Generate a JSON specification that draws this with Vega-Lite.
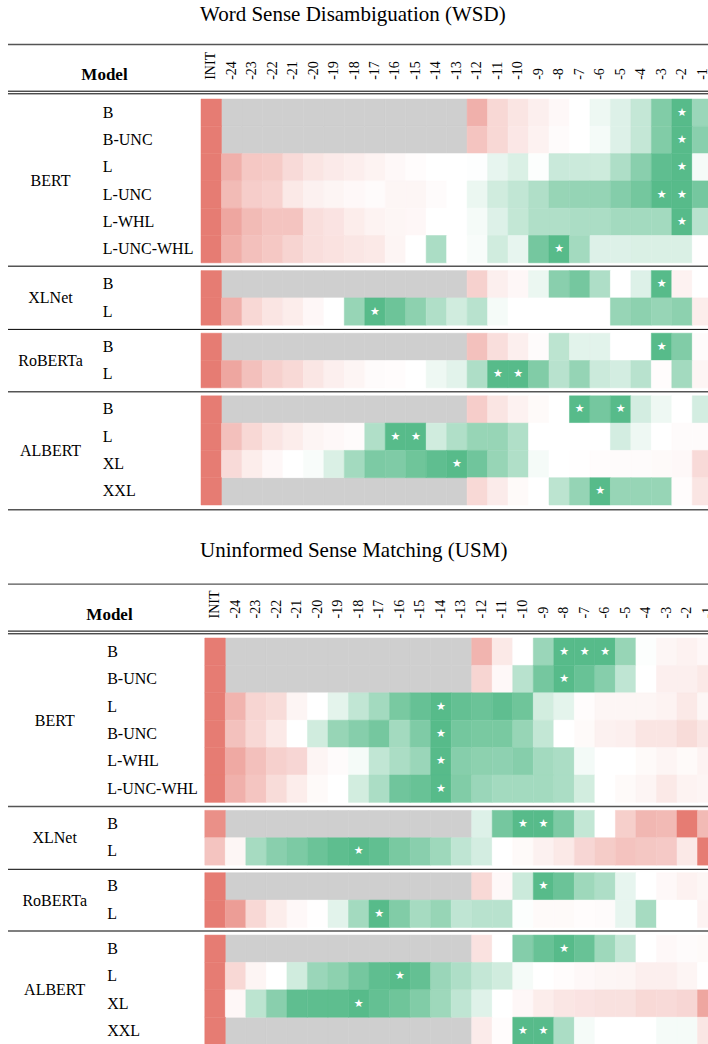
{
"$schema":"https://vega.github.io/schema/vega-lite/v6.json",
"background":"white",
"padding":{"left":7.5,"top":3,"right":0,"bottom":0},
"config":{"view":{"stroke":null},"axis":{"grid":false}},
"datasets":{
"wsd":[
{"g":"BERT","r":"B","c":"INIT","v":-1},{"g":"BERT","r":"B","c":"-24","v":null},{"g":"BERT","r":"B","c":"-23","v":null},{"g":"BERT","r":"B","c":"-22","v":null},{"g":"BERT","r":"B","c":"-21","v":null},{"g":"BERT","r":"B","c":"-20","v":null},{"g":"BERT","r":"B","c":"-19","v":null},{"g":"BERT","r":"B","c":"-18","v":null},{"g":"BERT","r":"B","c":"-17","v":null},{"g":"BERT","r":"B","c":"-16","v":null},{"g":"BERT","r":"B","c":"-15","v":null},{"g":"BERT","r":"B","c":"-14","v":null},{"g":"BERT","r":"B","c":"-13","v":null},{"g":"BERT","r":"B","c":"-12","v":-0.6},{"g":"BERT","r":"B","c":"-11","v":-0.3},{"g":"BERT","r":"B","c":"-10","v":-0.2},{"g":"BERT","r":"B","c":"-9","v":-0.12},{"g":"BERT","r":"B","c":"-8","v":-0.05},{"g":"BERT","r":"B","c":"-7","v":0},{"g":"BERT","r":"B","c":"-6","v":0.1},{"g":"BERT","r":"B","c":"-5","v":0.2},{"g":"BERT","r":"B","c":"-4","v":0.35},{"g":"BERT","r":"B","c":"-3","v":0.75},{"g":"BERT","r":"B","c":"-2","v":1,"s":1},{"g":"BERT","r":"B","c":"-1","v":0.6},
{"g":"BERT","r":"B-UNC","c":"INIT","v":-1},{"g":"BERT","r":"B-UNC","c":"-24","v":null},{"g":"BERT","r":"B-UNC","c":"-23","v":null},{"g":"BERT","r":"B-UNC","c":"-22","v":null},{"g":"BERT","r":"B-UNC","c":"-21","v":null},{"g":"BERT","r":"B-UNC","c":"-20","v":null},{"g":"BERT","r":"B-UNC","c":"-19","v":null},{"g":"BERT","r":"B-UNC","c":"-18","v":null},{"g":"BERT","r":"B-UNC","c":"-17","v":null},{"g":"BERT","r":"B-UNC","c":"-16","v":null},{"g":"BERT","r":"B-UNC","c":"-15","v":null},{"g":"BERT","r":"B-UNC","c":"-14","v":null},{"g":"BERT","r":"B-UNC","c":"-13","v":null},{"g":"BERT","r":"B-UNC","c":"-12","v":-0.45},{"g":"BERT","r":"B-UNC","c":"-11","v":-0.3},{"g":"BERT","r":"B-UNC","c":"-10","v":-0.18},{"g":"BERT","r":"B-UNC","c":"-9","v":-0.1},{"g":"BERT","r":"B-UNC","c":"-8","v":-0.03},{"g":"BERT","r":"B-UNC","c":"-7","v":0},{"g":"BERT","r":"B-UNC","c":"-6","v":0.06},{"g":"BERT","r":"B-UNC","c":"-5","v":0.2},{"g":"BERT","r":"B-UNC","c":"-4","v":0.35},{"g":"BERT","r":"B-UNC","c":"-3","v":0.75},{"g":"BERT","r":"B-UNC","c":"-2","v":1,"s":1},{"g":"BERT","r":"B-UNC","c":"-1","v":0.7},
{"g":"BERT","r":"L","c":"INIT","v":-1},{"g":"BERT","r":"L","c":"-24","v":-0.6},{"g":"BERT","r":"L","c":"-23","v":-0.42},{"g":"BERT","r":"L","c":"-22","v":-0.4},{"g":"BERT","r":"L","c":"-21","v":-0.28},{"g":"BERT","r":"L","c":"-20","v":-0.2},{"g":"BERT","r":"L","c":"-19","v":-0.16},{"g":"BERT","r":"L","c":"-18","v":-0.13},{"g":"BERT","r":"L","c":"-17","v":-0.09},{"g":"BERT","r":"L","c":"-16","v":-0.05},{"g":"BERT","r":"L","c":"-15","v":-0.02},{"g":"BERT","r":"L","c":"-14","v":0},{"g":"BERT","r":"L","c":"-13","v":0},{"g":"BERT","r":"L","c":"-12","v":0.01},{"g":"BERT","r":"L","c":"-11","v":0.14},{"g":"BERT","r":"L","c":"-10","v":0.22},{"g":"BERT","r":"L","c":"-9","v":0.02},{"g":"BERT","r":"L","c":"-8","v":0.32},{"g":"BERT","r":"L","c":"-7","v":0.31},{"g":"BERT","r":"L","c":"-6","v":0.3},{"g":"BERT","r":"L","c":"-5","v":0.48},{"g":"BERT","r":"L","c":"-4","v":0.7},{"g":"BERT","r":"L","c":"-3","v":0.95},{"g":"BERT","r":"L","c":"-2","v":1,"s":1},{"g":"BERT","r":"L","c":"-1","v":0.06},
{"g":"BERT","r":"L-UNC","c":"INIT","v":-1},{"g":"BERT","r":"L-UNC","c":"-24","v":-0.52},{"g":"BERT","r":"L-UNC","c":"-23","v":-0.38},{"g":"BERT","r":"L-UNC","c":"-22","v":-0.34},{"g":"BERT","r":"L-UNC","c":"-21","v":-0.17},{"g":"BERT","r":"L-UNC","c":"-20","v":-0.11},{"g":"BERT","r":"L-UNC","c":"-19","v":-0.08},{"g":"BERT","r":"L-UNC","c":"-18","v":-0.05},{"g":"BERT","r":"L-UNC","c":"-17","v":-0.03},{"g":"BERT","r":"L-UNC","c":"-16","v":-0.07},{"g":"BERT","r":"L-UNC","c":"-15","v":-0.07},{"g":"BERT","r":"L-UNC","c":"-14","v":-0.03},{"g":"BERT","r":"L-UNC","c":"-13","v":0},{"g":"BERT","r":"L-UNC","c":"-12","v":0.12},{"g":"BERT","r":"L-UNC","c":"-11","v":0.28},{"g":"BERT","r":"L-UNC","c":"-10","v":0.37},{"g":"BERT","r":"L-UNC","c":"-9","v":0.47},{"g":"BERT","r":"L-UNC","c":"-8","v":0.62},{"g":"BERT","r":"L-UNC","c":"-7","v":0.63},{"g":"BERT","r":"L-UNC","c":"-6","v":0.63},{"g":"BERT","r":"L-UNC","c":"-5","v":0.73},{"g":"BERT","r":"L-UNC","c":"-4","v":0.83},{"g":"BERT","r":"L-UNC","c":"-3","v":1,"s":1},{"g":"BERT","r":"L-UNC","c":"-2","v":1,"s":1},{"g":"BERT","r":"L-UNC","c":"-1","v":0.82},
{"g":"BERT","r":"L-WHL","c":"INIT","v":-1},{"g":"BERT","r":"L-WHL","c":"-24","v":-0.68},{"g":"BERT","r":"L-WHL","c":"-23","v":-0.52},{"g":"BERT","r":"L-WHL","c":"-22","v":-0.45},{"g":"BERT","r":"L-WHL","c":"-21","v":-0.45},{"g":"BERT","r":"L-WHL","c":"-20","v":-0.25},{"g":"BERT","r":"L-WHL","c":"-19","v":-0.21},{"g":"BERT","r":"L-WHL","c":"-18","v":-0.14},{"g":"BERT","r":"L-WHL","c":"-17","v":-0.09},{"g":"BERT","r":"L-WHL","c":"-16","v":-0.07},{"g":"BERT","r":"L-WHL","c":"-15","v":-0.06},{"g":"BERT","r":"L-WHL","c":"-14","v":0},{"g":"BERT","r":"L-WHL","c":"-13","v":0},{"g":"BERT","r":"L-WHL","c":"-12","v":0.06},{"g":"BERT","r":"L-WHL","c":"-11","v":0.2},{"g":"BERT","r":"L-WHL","c":"-10","v":0.36},{"g":"BERT","r":"L-WHL","c":"-9","v":0.47},{"g":"BERT","r":"L-WHL","c":"-8","v":0.47},{"g":"BERT","r":"L-WHL","c":"-7","v":0.5},{"g":"BERT","r":"L-WHL","c":"-6","v":0.5},{"g":"BERT","r":"L-WHL","c":"-5","v":0.55},{"g":"BERT","r":"L-WHL","c":"-4","v":0.55},{"g":"BERT","r":"L-WHL","c":"-3","v":0.55},{"g":"BERT","r":"L-WHL","c":"-2","v":1,"s":1},{"g":"BERT","r":"L-WHL","c":"-1","v":0.42},
{"g":"BERT","r":"L-UNC-WHL","c":"INIT","v":-1},{"g":"BERT","r":"L-UNC-WHL","c":"-24","v":-0.62},{"g":"BERT","r":"L-UNC-WHL","c":"-23","v":-0.48},{"g":"BERT","r":"L-UNC-WHL","c":"-22","v":-0.42},{"g":"BERT","r":"L-UNC-WHL","c":"-21","v":-0.33},{"g":"BERT","r":"L-UNC-WHL","c":"-20","v":-0.25},{"g":"BERT","r":"L-UNC-WHL","c":"-19","v":-0.22},{"g":"BERT","r":"L-UNC-WHL","c":"-18","v":-0.19},{"g":"BERT","r":"L-UNC-WHL","c":"-17","v":-0.17},{"g":"BERT","r":"L-UNC-WHL","c":"-16","v":-0.08},{"g":"BERT","r":"L-UNC-WHL","c":"-15","v":0},{"g":"BERT","r":"L-UNC-WHL","c":"-14","v":0.5},{"g":"BERT","r":"L-UNC-WHL","c":"-13","v":0},{"g":"BERT","r":"L-UNC-WHL","c":"-12","v":0.04},{"g":"BERT","r":"L-UNC-WHL","c":"-11","v":0.28},{"g":"BERT","r":"L-UNC-WHL","c":"-10","v":0.14},{"g":"BERT","r":"L-UNC-WHL","c":"-9","v":0.82},{"g":"BERT","r":"L-UNC-WHL","c":"-8","v":1,"s":1},{"g":"BERT","r":"L-UNC-WHL","c":"-7","v":0.55},{"g":"BERT","r":"L-UNC-WHL","c":"-6","v":0.2},{"g":"BERT","r":"L-UNC-WHL","c":"-5","v":0.2},{"g":"BERT","r":"L-UNC-WHL","c":"-4","v":0.22},{"g":"BERT","r":"L-UNC-WHL","c":"-3","v":0.22},{"g":"BERT","r":"L-UNC-WHL","c":"-2","v":0.22},{"g":"BERT","r":"L-UNC-WHL","c":"-1","v":-0.01},
{"g":"XLNet","r":"B","c":"INIT","v":-1},{"g":"XLNet","r":"B","c":"-24","v":null},{"g":"XLNet","r":"B","c":"-23","v":null},{"g":"XLNet","r":"B","c":"-22","v":null},{"g":"XLNet","r":"B","c":"-21","v":null},{"g":"XLNet","r":"B","c":"-20","v":null},{"g":"XLNet","r":"B","c":"-19","v":null},{"g":"XLNet","r":"B","c":"-18","v":null},{"g":"XLNet","r":"B","c":"-17","v":null},{"g":"XLNet","r":"B","c":"-16","v":null},{"g":"XLNet","r":"B","c":"-15","v":null},{"g":"XLNet","r":"B","c":"-14","v":null},{"g":"XLNet","r":"B","c":"-13","v":null},{"g":"XLNet","r":"B","c":"-12","v":-0.35},{"g":"XLNet","r":"B","c":"-11","v":-0.12},{"g":"XLNet","r":"B","c":"-10","v":-0.06},{"g":"XLNet","r":"B","c":"-9","v":0.12},{"g":"XLNet","r":"B","c":"-8","v":0.7},{"g":"XLNet","r":"B","c":"-7","v":0.82},{"g":"XLNet","r":"B","c":"-6","v":0.48},{"g":"XLNet","r":"B","c":"-5","v":0},{"g":"XLNet","r":"B","c":"-4","v":0.2},{"g":"XLNet","r":"B","c":"-3","v":1,"s":1},{"g":"XLNet","r":"B","c":"-2","v":-0.1},{"g":"XLNet","r":"B","c":"-1","v":0},
{"g":"XLNet","r":"L","c":"INIT","v":-1},{"g":"XLNet","r":"L","c":"-24","v":-0.6},{"g":"XLNet","r":"L","c":"-23","v":-0.3},{"g":"XLNet","r":"L","c":"-22","v":-0.2},{"g":"XLNet","r":"L","c":"-21","v":-0.14},{"g":"XLNet","r":"L","c":"-20","v":-0.06},{"g":"XLNet","r":"L","c":"-19","v":0},{"g":"XLNet","r":"L","c":"-18","v":0.62},{"g":"XLNet","r":"L","c":"-17","v":1,"s":1},{"g":"XLNet","r":"L","c":"-16","v":0.87},{"g":"XLNet","r":"L","c":"-15","v":0.68},{"g":"XLNet","r":"L","c":"-14","v":0.47},{"g":"XLNet","r":"L","c":"-13","v":0.28},{"g":"XLNet","r":"L","c":"-12","v":0.42},{"g":"XLNet","r":"L","c":"-11","v":0.06},{"g":"XLNet","r":"L","c":"-10","v":0},{"g":"XLNet","r":"L","c":"-9","v":0},{"g":"XLNet","r":"L","c":"-8","v":0},{"g":"XLNet","r":"L","c":"-7","v":0},{"g":"XLNet","r":"L","c":"-6","v":0},{"g":"XLNet","r":"L","c":"-5","v":0.62},{"g":"XLNet","r":"L","c":"-4","v":0.68},{"g":"XLNet","r":"L","c":"-3","v":0.62},{"g":"XLNet","r":"L","c":"-2","v":0.68},{"g":"XLNet","r":"L","c":"-1","v":-0.14},
{"g":"RoBERTa","r":"B","c":"INIT","v":-1},{"g":"RoBERTa","r":"B","c":"-24","v":null},{"g":"RoBERTa","r":"B","c":"-23","v":null},{"g":"RoBERTa","r":"B","c":"-22","v":null},{"g":"RoBERTa","r":"B","c":"-21","v":null},{"g":"RoBERTa","r":"B","c":"-20","v":null},{"g":"RoBERTa","r":"B","c":"-19","v":null},{"g":"RoBERTa","r":"B","c":"-18","v":null},{"g":"RoBERTa","r":"B","c":"-17","v":null},{"g":"RoBERTa","r":"B","c":"-16","v":null},{"g":"RoBERTa","r":"B","c":"-15","v":null},{"g":"RoBERTa","r":"B","c":"-14","v":null},{"g":"RoBERTa","r":"B","c":"-13","v":null},{"g":"RoBERTa","r":"B","c":"-12","v":-0.47},{"g":"RoBERTa","r":"B","c":"-11","v":-0.25},{"g":"RoBERTa","r":"B","c":"-10","v":-0.12},{"g":"RoBERTa","r":"B","c":"-9","v":-0.03},{"g":"RoBERTa","r":"B","c":"-8","v":0.4},{"g":"RoBERTa","r":"B","c":"-7","v":0.17},{"g":"RoBERTa","r":"B","c":"-6","v":0.17},{"g":"RoBERTa","r":"B","c":"-5","v":0},{"g":"RoBERTa","r":"B","c":"-4","v":0},{"g":"RoBERTa","r":"B","c":"-3","v":1,"s":1},{"g":"RoBERTa","r":"B","c":"-2","v":0.75},{"g":"RoBERTa","r":"B","c":"-1","v":-0.03},
{"g":"RoBERTa","r":"L","c":"INIT","v":-1},{"g":"RoBERTa","r":"L","c":"-24","v":-0.68},{"g":"RoBERTa","r":"L","c":"-23","v":-0.48},{"g":"RoBERTa","r":"L","c":"-22","v":-0.36},{"g":"RoBERTa","r":"L","c":"-21","v":-0.29},{"g":"RoBERTa","r":"L","c":"-20","v":-0.19},{"g":"RoBERTa","r":"L","c":"-19","v":-0.12},{"g":"RoBERTa","r":"L","c":"-18","v":-0.08},{"g":"RoBERTa","r":"L","c":"-17","v":-0.03},{"g":"RoBERTa","r":"L","c":"-16","v":-0.02},{"g":"RoBERTa","r":"L","c":"-15","v":0},{"g":"RoBERTa","r":"L","c":"-14","v":0.1},{"g":"RoBERTa","r":"L","c":"-13","v":0.17},{"g":"RoBERTa","r":"L","c":"-12","v":0.48},{"g":"RoBERTa","r":"L","c":"-11","v":1,"s":1},{"g":"RoBERTa","r":"L","c":"-10","v":1,"s":1},{"g":"RoBERTa","r":"L","c":"-9","v":0.75},{"g":"RoBERTa","r":"L","c":"-8","v":0.42},{"g":"RoBERTa","r":"L","c":"-7","v":0.63},{"g":"RoBERTa","r":"L","c":"-6","v":0.31},{"g":"RoBERTa","r":"L","c":"-5","v":0.26},{"g":"RoBERTa","r":"L","c":"-4","v":0.42},{"g":"RoBERTa","r":"L","c":"-3","v":-0.02},{"g":"RoBERTa","r":"L","c":"-2","v":0.55},{"g":"RoBERTa","r":"L","c":"-1","v":-0.08},
{"g":"ALBERT","r":"B","c":"INIT","v":-1},{"g":"ALBERT","r":"B","c":"-24","v":null},{"g":"ALBERT","r":"B","c":"-23","v":null},{"g":"ALBERT","r":"B","c":"-22","v":null},{"g":"ALBERT","r":"B","c":"-21","v":null},{"g":"ALBERT","r":"B","c":"-20","v":null},{"g":"ALBERT","r":"B","c":"-19","v":null},{"g":"ALBERT","r":"B","c":"-18","v":null},{"g":"ALBERT","r":"B","c":"-17","v":null},{"g":"ALBERT","r":"B","c":"-16","v":null},{"g":"ALBERT","r":"B","c":"-15","v":null},{"g":"ALBERT","r":"B","c":"-14","v":null},{"g":"ALBERT","r":"B","c":"-13","v":null},{"g":"ALBERT","r":"B","c":"-12","v":-0.38},{"g":"ALBERT","r":"B","c":"-11","v":-0.2},{"g":"ALBERT","r":"B","c":"-10","v":-0.1},{"g":"ALBERT","r":"B","c":"-9","v":-0.04},{"g":"ALBERT","r":"B","c":"-8","v":0},{"g":"ALBERT","r":"B","c":"-7","v":1,"s":1},{"g":"ALBERT","r":"B","c":"-6","v":0.82},{"g":"ALBERT","r":"B","c":"-5","v":1,"s":1},{"g":"ALBERT","r":"B","c":"-4","v":0.26},{"g":"ALBERT","r":"B","c":"-3","v":0.1},{"g":"ALBERT","r":"B","c":"-2","v":0},{"g":"ALBERT","r":"B","c":"-1","v":0.26},
{"g":"ALBERT","r":"L","c":"INIT","v":-1},{"g":"ALBERT","r":"L","c":"-24","v":-0.48},{"g":"ALBERT","r":"L","c":"-23","v":-0.3},{"g":"ALBERT","r":"L","c":"-22","v":-0.2},{"g":"ALBERT","r":"L","c":"-21","v":-0.14},{"g":"ALBERT","r":"L","c":"-20","v":-0.08},{"g":"ALBERT","r":"L","c":"-19","v":-0.05},{"g":"ALBERT","r":"L","c":"-18","v":-0.03},{"g":"ALBERT","r":"L","c":"-17","v":0.47},{"g":"ALBERT","r":"L","c":"-16","v":1,"s":1},{"g":"ALBERT","r":"L","c":"-15","v":1,"s":1},{"g":"ALBERT","r":"L","c":"-14","v":0.28},{"g":"ALBERT","r":"L","c":"-13","v":0.47},{"g":"ALBERT","r":"L","c":"-12","v":0.62},{"g":"ALBERT","r":"L","c":"-11","v":0.62},{"g":"ALBERT","r":"L","c":"-10","v":0.47},{"g":"ALBERT","r":"L","c":"-9","v":0},{"g":"ALBERT","r":"L","c":"-8","v":0},{"g":"ALBERT","r":"L","c":"-7","v":0},{"g":"ALBERT","r":"L","c":"-6","v":0},{"g":"ALBERT","r":"L","c":"-5","v":0.26},{"g":"ALBERT","r":"L","c":"-4","v":0.1},{"g":"ALBERT","r":"L","c":"-3","v":0},{"g":"ALBERT","r":"L","c":"-2","v":-0.03},{"g":"ALBERT","r":"L","c":"-1","v":-0.03},
{"g":"ALBERT","r":"XL","c":"INIT","v":-1},{"g":"ALBERT","r":"XL","c":"-24","v":-0.28},{"g":"ALBERT","r":"XL","c":"-23","v":-0.14},{"g":"ALBERT","r":"XL","c":"-22","v":-0.06},{"g":"ALBERT","r":"XL","c":"-21","v":0},{"g":"ALBERT","r":"XL","c":"-20","v":0.04},{"g":"ALBERT","r":"XL","c":"-19","v":0.22},{"g":"ALBERT","r":"XL","c":"-18","v":0.55},{"g":"ALBERT","r":"XL","c":"-17","v":0.78},{"g":"ALBERT","r":"XL","c":"-16","v":0.76},{"g":"ALBERT","r":"XL","c":"-15","v":0.86},{"g":"ALBERT","r":"XL","c":"-14","v":0.95},{"g":"ALBERT","r":"XL","c":"-13","v":1,"s":1},{"g":"ALBERT","r":"XL","c":"-12","v":0.85},{"g":"ALBERT","r":"XL","c":"-11","v":0.62},{"g":"ALBERT","r":"XL","c":"-10","v":0.47},{"g":"ALBERT","r":"XL","c":"-9","v":0.06},{"g":"ALBERT","r":"XL","c":"-8","v":0},{"g":"ALBERT","r":"XL","c":"-7","v":-0.01},{"g":"ALBERT","r":"XL","c":"-6","v":-0.02},{"g":"ALBERT","r":"XL","c":"-5","v":-0.03},{"g":"ALBERT","r":"XL","c":"-4","v":-0.03},{"g":"ALBERT","r":"XL","c":"-3","v":-0.04},{"g":"ALBERT","r":"XL","c":"-2","v":-0.05},{"g":"ALBERT","r":"XL","c":"-1","v":-0.28},
{"g":"ALBERT","r":"XXL","c":"INIT","v":-1},{"g":"ALBERT","r":"XXL","c":"-24","v":null},{"g":"ALBERT","r":"XXL","c":"-23","v":null},{"g":"ALBERT","r":"XXL","c":"-22","v":null},{"g":"ALBERT","r":"XXL","c":"-21","v":null},{"g":"ALBERT","r":"XXL","c":"-20","v":null},{"g":"ALBERT","r":"XXL","c":"-19","v":null},{"g":"ALBERT","r":"XXL","c":"-18","v":null},{"g":"ALBERT","r":"XXL","c":"-17","v":null},{"g":"ALBERT","r":"XXL","c":"-16","v":null},{"g":"ALBERT","r":"XXL","c":"-15","v":null},{"g":"ALBERT","r":"XXL","c":"-14","v":null},{"g":"ALBERT","r":"XXL","c":"-13","v":null},{"g":"ALBERT","r":"XXL","c":"-12","v":-0.29},{"g":"ALBERT","r":"XXL","c":"-11","v":-0.15},{"g":"ALBERT","r":"XXL","c":"-10","v":-0.04},{"g":"ALBERT","r":"XXL","c":"-9","v":0},{"g":"ALBERT","r":"XXL","c":"-8","v":0.4},{"g":"ALBERT","r":"XXL","c":"-7","v":0.63},{"g":"ALBERT","r":"XXL","c":"-6","v":1,"s":1},{"g":"ALBERT","r":"XXL","c":"-5","v":0.62},{"g":"ALBERT","r":"XXL","c":"-4","v":0.62},{"g":"ALBERT","r":"XXL","c":"-3","v":0.62},{"g":"ALBERT","r":"XXL","c":"-2","v":-0.02},{"g":"ALBERT","r":"XXL","c":"-1","v":-0.2}
],
"usm":[
{"g":"BERT","r":"B","c":"INIT","v":-1},{"g":"BERT","r":"B","c":"-24","v":null},{"g":"BERT","r":"B","c":"-23","v":null},{"g":"BERT","r":"B","c":"-22","v":null},{"g":"BERT","r":"B","c":"-21","v":null},{"g":"BERT","r":"B","c":"-20","v":null},{"g":"BERT","r":"B","c":"-19","v":null},{"g":"BERT","r":"B","c":"-18","v":null},{"g":"BERT","r":"B","c":"-17","v":null},{"g":"BERT","r":"B","c":"-16","v":null},{"g":"BERT","r":"B","c":"-15","v":null},{"g":"BERT","r":"B","c":"-14","v":null},{"g":"BERT","r":"B","c":"-13","v":null},{"g":"BERT","r":"B","c":"-12","v":-0.57},{"g":"BERT","r":"B","c":"-11","v":-0.17},{"g":"BERT","r":"B","c":"-10","v":0},{"g":"BERT","r":"B","c":"-9","v":0.6},{"g":"BERT","r":"B","c":"-8","v":1,"s":1},{"g":"BERT","r":"B","c":"-7","v":1,"s":1},{"g":"BERT","r":"B","c":"-6","v":1,"s":1},{"g":"BERT","r":"B","c":"-5","v":0.62},{"g":"BERT","r":"B","c":"-4","v":0.02},{"g":"BERT","r":"B","c":"-3","v":-0.07},{"g":"BERT","r":"B","c":"-2","v":-0.1},{"g":"BERT","r":"B","c":"-1","v":-0.06},
{"g":"BERT","r":"B-UNC","c":"INIT","v":-1},{"g":"BERT","r":"B-UNC","c":"-24","v":null},{"g":"BERT","r":"B-UNC","c":"-23","v":null},{"g":"BERT","r":"B-UNC","c":"-22","v":null},{"g":"BERT","r":"B-UNC","c":"-21","v":null},{"g":"BERT","r":"B-UNC","c":"-20","v":null},{"g":"BERT","r":"B-UNC","c":"-19","v":null},{"g":"BERT","r":"B-UNC","c":"-18","v":null},{"g":"BERT","r":"B-UNC","c":"-17","v":null},{"g":"BERT","r":"B-UNC","c":"-16","v":null},{"g":"BERT","r":"B-UNC","c":"-15","v":null},{"g":"BERT","r":"B-UNC","c":"-14","v":null},{"g":"BERT","r":"B-UNC","c":"-13","v":null},{"g":"BERT","r":"B-UNC","c":"-12","v":-0.32},{"g":"BERT","r":"B-UNC","c":"-11","v":-0.05},{"g":"BERT","r":"B-UNC","c":"-10","v":0.42},{"g":"BERT","r":"B-UNC","c":"-9","v":0.82},{"g":"BERT","r":"B-UNC","c":"-8","v":1,"s":1},{"g":"BERT","r":"B-UNC","c":"-7","v":0.9},{"g":"BERT","r":"B-UNC","c":"-6","v":0.72},{"g":"BERT","r":"B-UNC","c":"-5","v":0.38},{"g":"BERT","r":"B-UNC","c":"-4","v":0},{"g":"BERT","r":"B-UNC","c":"-3","v":-0.12},{"g":"BERT","r":"B-UNC","c":"-2","v":-0.12},{"g":"BERT","r":"B-UNC","c":"-1","v":-0.17},
{"g":"BERT","r":"L","c":"INIT","v":-1},{"g":"BERT","r":"L","c":"-24","v":-0.57},{"g":"BERT","r":"L","c":"-23","v":-0.32},{"g":"BERT","r":"L","c":"-22","v":-0.27},{"g":"BERT","r":"L","c":"-21","v":-0.08},{"g":"BERT","r":"L","c":"-20","v":0},{"g":"BERT","r":"L","c":"-19","v":0.16},{"g":"BERT","r":"L","c":"-18","v":0.37},{"g":"BERT","r":"L","c":"-17","v":0.55},{"g":"BERT","r":"L","c":"-16","v":0.8},{"g":"BERT","r":"L","c":"-15","v":0.91},{"g":"BERT","r":"L","c":"-14","v":1,"s":1},{"g":"BERT","r":"L","c":"-13","v":0.92},{"g":"BERT","r":"L","c":"-12","v":0.88},{"g":"BERT","r":"L","c":"-11","v":0.95},{"g":"BERT","r":"L","c":"-10","v":0.86},{"g":"BERT","r":"L","c":"-9","v":0.27},{"g":"BERT","r":"L","c":"-8","v":0.16},{"g":"BERT","r":"L","c":"-7","v":-0.02},{"g":"BERT","r":"L","c":"-6","v":-0.07},{"g":"BERT","r":"L","c":"-5","v":-0.07},{"g":"BERT","r":"L","c":"-4","v":-0.07},{"g":"BERT","r":"L","c":"-3","v":-0.09},{"g":"BERT","r":"L","c":"-2","v":-0.17},{"g":"BERT","r":"L","c":"-1","v":-0.07},
{"g":"BERT","r":"B-UNC ","c":"INIT","v":-1},{"g":"BERT","r":"B-UNC ","c":"-24","v":-0.47},{"g":"BERT","r":"B-UNC ","c":"-23","v":-0.3},{"g":"BERT","r":"B-UNC ","c":"-22","v":-0.17},{"g":"BERT","r":"B-UNC ","c":"-21","v":0},{"g":"BERT","r":"B-UNC ","c":"-20","v":0.28},{"g":"BERT","r":"B-UNC ","c":"-19","v":0.62},{"g":"BERT","r":"B-UNC ","c":"-18","v":0.72},{"g":"BERT","r":"B-UNC ","c":"-17","v":0.82},{"g":"BERT","r":"B-UNC ","c":"-16","v":0.55},{"g":"BERT","r":"B-UNC ","c":"-15","v":0.76},{"g":"BERT","r":"B-UNC ","c":"-14","v":1,"s":1},{"g":"BERT","r":"B-UNC ","c":"-13","v":0.83},{"g":"BERT","r":"B-UNC ","c":"-12","v":0.8},{"g":"BERT","r":"B-UNC ","c":"-11","v":0.8},{"g":"BERT","r":"B-UNC ","c":"-10","v":0.62},{"g":"BERT","r":"B-UNC ","c":"-9","v":0.36},{"g":"BERT","r":"B-UNC ","c":"-8","v":0},{"g":"BERT","r":"B-UNC ","c":"-7","v":-0.04},{"g":"BERT","r":"B-UNC ","c":"-6","v":-0.11},{"g":"BERT","r":"B-UNC ","c":"-5","v":-0.12},{"g":"BERT","r":"B-UNC ","c":"-4","v":-0.2},{"g":"BERT","r":"B-UNC ","c":"-3","v":-0.2},{"g":"BERT","r":"B-UNC ","c":"-2","v":-0.27},{"g":"BERT","r":"B-UNC ","c":"-1","v":-0.19},
{"g":"BERT","r":"L-WHL","c":"INIT","v":-1},{"g":"BERT","r":"L-WHL","c":"-24","v":-0.66},{"g":"BERT","r":"L-WHL","c":"-23","v":-0.48},{"g":"BERT","r":"L-WHL","c":"-22","v":-0.36},{"g":"BERT","r":"L-WHL","c":"-21","v":-0.31},{"g":"BERT","r":"L-WHL","c":"-20","v":-0.08},{"g":"BERT","r":"L-WHL","c":"-19","v":-0.03},{"g":"BERT","r":"L-WHL","c":"-18","v":0.06},{"g":"BERT","r":"L-WHL","c":"-17","v":0.37},{"g":"BERT","r":"L-WHL","c":"-16","v":0.5},{"g":"BERT","r":"L-WHL","c":"-15","v":0.6},{"g":"BERT","r":"L-WHL","c":"-14","v":1,"s":1},{"g":"BERT","r":"L-WHL","c":"-13","v":0.72},{"g":"BERT","r":"L-WHL","c":"-12","v":0.68},{"g":"BERT","r":"L-WHL","c":"-11","v":0.67},{"g":"BERT","r":"L-WHL","c":"-10","v":0.72},{"g":"BERT","r":"L-WHL","c":"-9","v":0.55},{"g":"BERT","r":"L-WHL","c":"-8","v":0.5},{"g":"BERT","r":"L-WHL","c":"-7","v":0.07},{"g":"BERT","r":"L-WHL","c":"-6","v":0},{"g":"BERT","r":"L-WHL","c":"-5","v":0},{"g":"BERT","r":"L-WHL","c":"-4","v":-0.04},{"g":"BERT","r":"L-WHL","c":"-3","v":-0.08},{"g":"BERT","r":"L-WHL","c":"-2","v":-0.04},{"g":"BERT","r":"L-WHL","c":"-1","v":-0.09},
{"g":"BERT","r":"L-UNC-WHL","c":"INIT","v":-1},{"g":"BERT","r":"L-UNC-WHL","c":"-24","v":-0.6},{"g":"BERT","r":"L-UNC-WHL","c":"-23","v":-0.44},{"g":"BERT","r":"L-UNC-WHL","c":"-22","v":-0.27},{"g":"BERT","r":"L-UNC-WHL","c":"-21","v":-0.14},{"g":"BERT","r":"L-UNC-WHL","c":"-20","v":-0.04},{"g":"BERT","r":"L-UNC-WHL","c":"-19","v":0},{"g":"BERT","r":"L-UNC-WHL","c":"-18","v":0.27},{"g":"BERT","r":"L-UNC-WHL","c":"-17","v":0.5},{"g":"BERT","r":"L-UNC-WHL","c":"-16","v":0.85},{"g":"BERT","r":"L-UNC-WHL","c":"-15","v":0.9},{"g":"BERT","r":"L-UNC-WHL","c":"-14","v":1,"s":1},{"g":"BERT","r":"L-UNC-WHL","c":"-13","v":0.75},{"g":"BERT","r":"L-UNC-WHL","c":"-12","v":0.6},{"g":"BERT","r":"L-UNC-WHL","c":"-11","v":0.55},{"g":"BERT","r":"L-UNC-WHL","c":"-10","v":0.55},{"g":"BERT","r":"L-UNC-WHL","c":"-9","v":0.55},{"g":"BERT","r":"L-UNC-WHL","c":"-8","v":0.5},{"g":"BERT","r":"L-UNC-WHL","c":"-7","v":0.27},{"g":"BERT","r":"L-UNC-WHL","c":"-6","v":0},{"g":"BERT","r":"L-UNC-WHL","c":"-5","v":-0.04},{"g":"BERT","r":"L-UNC-WHL","c":"-4","v":-0.08},{"g":"BERT","r":"L-UNC-WHL","c":"-3","v":-0.17},{"g":"BERT","r":"L-UNC-WHL","c":"-2","v":-0.09},{"g":"BERT","r":"L-UNC-WHL","c":"-1","v":-0.08},
{"g":"XLNet","r":"B","c":"INIT","v":-0.85},{"g":"XLNet","r":"B","c":"-24","v":null},{"g":"XLNet","r":"B","c":"-23","v":null},{"g":"XLNet","r":"B","c":"-22","v":null},{"g":"XLNet","r":"B","c":"-21","v":null},{"g":"XLNet","r":"B","c":"-20","v":null},{"g":"XLNet","r":"B","c":"-19","v":null},{"g":"XLNet","r":"B","c":"-18","v":null},{"g":"XLNet","r":"B","c":"-17","v":null},{"g":"XLNet","r":"B","c":"-16","v":null},{"g":"XLNet","r":"B","c":"-15","v":null},{"g":"XLNet","r":"B","c":"-14","v":null},{"g":"XLNet","r":"B","c":"-13","v":null},{"g":"XLNet","r":"B","c":"-12","v":0.2},{"g":"XLNet","r":"B","c":"-11","v":0.82},{"g":"XLNet","r":"B","c":"-10","v":1,"s":1},{"g":"XLNet","r":"B","c":"-9","v":1,"s":1},{"g":"XLNet","r":"B","c":"-8","v":0.78},{"g":"XLNet","r":"B","c":"-7","v":0.36},{"g":"XLNet","r":"B","c":"-6","v":0},{"g":"XLNet","r":"B","c":"-5","v":-0.37},{"g":"XLNet","r":"B","c":"-4","v":-0.55},{"g":"XLNet","r":"B","c":"-3","v":-0.53},{"g":"XLNet","r":"B","c":"-2","v":-1},{"g":"XLNet","r":"B","c":"-1","v":-0.53},
{"g":"XLNet","r":"L","c":"INIT","v":-0.45},{"g":"XLNet","r":"L","c":"-24","v":-0.07},{"g":"XLNet","r":"L","c":"-23","v":0.53},{"g":"XLNet","r":"L","c":"-22","v":0.7},{"g":"XLNet","r":"L","c":"-21","v":0.78},{"g":"XLNet","r":"L","c":"-20","v":0.88},{"g":"XLNet","r":"L","c":"-19","v":0.96},{"g":"XLNet","r":"L","c":"-18","v":1,"s":1},{"g":"XLNet","r":"L","c":"-17","v":0.94},{"g":"XLNet","r":"L","c":"-16","v":0.8},{"g":"XLNet","r":"L","c":"-15","v":0.7},{"g":"XLNet","r":"L","c":"-14","v":0.58},{"g":"XLNet","r":"L","c":"-13","v":0.38},{"g":"XLNet","r":"L","c":"-12","v":0.26},{"g":"XLNet","r":"L","c":"-11","v":0},{"g":"XLNet","r":"L","c":"-10","v":-0.04},{"g":"XLNet","r":"L","c":"-9","v":-0.11},{"g":"XLNet","r":"L","c":"-8","v":-0.17},{"g":"XLNet","r":"L","c":"-7","v":-0.31},{"g":"XLNet","r":"L","c":"-6","v":-0.39},{"g":"XLNet","r":"L","c":"-5","v":-0.46},{"g":"XLNet","r":"L","c":"-4","v":-0.43},{"g":"XLNet","r":"L","c":"-3","v":-0.41},{"g":"XLNet","r":"L","c":"-2","v":-0.17},{"g":"XLNet","r":"L","c":"-1","v":-1},
{"g":"RoBERTa","r":"B","c":"INIT","v":-1},{"g":"RoBERTa","r":"B","c":"-24","v":null},{"g":"RoBERTa","r":"B","c":"-23","v":null},{"g":"RoBERTa","r":"B","c":"-22","v":null},{"g":"RoBERTa","r":"B","c":"-21","v":null},{"g":"RoBERTa","r":"B","c":"-20","v":null},{"g":"RoBERTa","r":"B","c":"-19","v":null},{"g":"RoBERTa","r":"B","c":"-18","v":null},{"g":"RoBERTa","r":"B","c":"-17","v":null},{"g":"RoBERTa","r":"B","c":"-16","v":null},{"g":"RoBERTa","r":"B","c":"-15","v":null},{"g":"RoBERTa","r":"B","c":"-14","v":null},{"g":"RoBERTa","r":"B","c":"-13","v":null},{"g":"RoBERTa","r":"B","c":"-12","v":-0.29},{"g":"RoBERTa","r":"B","c":"-11","v":-0.05},{"g":"RoBERTa","r":"B","c":"-10","v":0.31},{"g":"RoBERTa","r":"B","c":"-9","v":1,"s":1},{"g":"RoBERTa","r":"B","c":"-8","v":0.88},{"g":"RoBERTa","r":"B","c":"-7","v":0.58},{"g":"RoBERTa","r":"B","c":"-6","v":0.48},{"g":"RoBERTa","r":"B","c":"-5","v":0.14},{"g":"RoBERTa","r":"B","c":"-4","v":0},{"g":"RoBERTa","r":"B","c":"-3","v":-0.05},{"g":"RoBERTa","r":"B","c":"-2","v":-0.1},{"g":"RoBERTa","r":"B","c":"-1","v":-0.07},
{"g":"RoBERTa","r":"L","c":"INIT","v":-1},{"g":"RoBERTa","r":"L","c":"-24","v":-0.75},{"g":"RoBERTa","r":"L","c":"-23","v":-0.3},{"g":"RoBERTa","r":"L","c":"-22","v":-0.14},{"g":"RoBERTa","r":"L","c":"-21","v":-0.05},{"g":"RoBERTa","r":"L","c":"-20","v":-0.01},{"g":"RoBERTa","r":"L","c":"-19","v":0.17},{"g":"RoBERTa","r":"L","c":"-18","v":0.55},{"g":"RoBERTa","r":"L","c":"-17","v":1,"s":1},{"g":"RoBERTa","r":"L","c":"-16","v":0.75},{"g":"RoBERTa","r":"L","c":"-15","v":0.53},{"g":"RoBERTa","r":"L","c":"-14","v":0.62},{"g":"RoBERTa","r":"L","c":"-13","v":0.38},{"g":"RoBERTa","r":"L","c":"-12","v":0.42},{"g":"RoBERTa","r":"L","c":"-11","v":0.42},{"g":"RoBERTa","r":"L","c":"-10","v":0.02},{"g":"RoBERTa","r":"L","c":"-9","v":-0.04},{"g":"RoBERTa","r":"L","c":"-8","v":-0.04},{"g":"RoBERTa","r":"L","c":"-7","v":-0.02},{"g":"RoBERTa","r":"L","c":"-6","v":-0.03},{"g":"RoBERTa","r":"L","c":"-5","v":0.14},{"g":"RoBERTa","r":"L","c":"-4","v":0.53},{"g":"RoBERTa","r":"L","c":"-3","v":0},{"g":"RoBERTa","r":"L","c":"-2","v":0},{"g":"RoBERTa","r":"L","c":"-1","v":-0.09},
{"g":"ALBERT","r":"B","c":"INIT","v":-1},{"g":"ALBERT","r":"B","c":"-24","v":null},{"g":"ALBERT","r":"B","c":"-23","v":null},{"g":"ALBERT","r":"B","c":"-22","v":null},{"g":"ALBERT","r":"B","c":"-21","v":null},{"g":"ALBERT","r":"B","c":"-20","v":null},{"g":"ALBERT","r":"B","c":"-19","v":null},{"g":"ALBERT","r":"B","c":"-18","v":null},{"g":"ALBERT","r":"B","c":"-17","v":null},{"g":"ALBERT","r":"B","c":"-16","v":null},{"g":"ALBERT","r":"B","c":"-15","v":null},{"g":"ALBERT","r":"B","c":"-14","v":null},{"g":"ALBERT","r":"B","c":"-13","v":null},{"g":"ALBERT","r":"B","c":"-12","v":-0.22},{"g":"ALBERT","r":"B","c":"-11","v":0},{"g":"ALBERT","r":"B","c":"-10","v":0.73},{"g":"ALBERT","r":"B","c":"-9","v":0.9},{"g":"ALBERT","r":"B","c":"-8","v":1,"s":1},{"g":"ALBERT","r":"B","c":"-7","v":0.9},{"g":"ALBERT","r":"B","c":"-6","v":0.58},{"g":"ALBERT","r":"B","c":"-5","v":0.35},{"g":"ALBERT","r":"B","c":"-4","v":0},{"g":"ALBERT","r":"B","c":"-3","v":-0.05},{"g":"ALBERT","r":"B","c":"-2","v":-0.03},{"g":"ALBERT","r":"B","c":"-1","v":-0.04},
{"g":"ALBERT","r":"L","c":"INIT","v":-1},{"g":"ALBERT","r":"L","c":"-24","v":-0.3},{"g":"ALBERT","r":"L","c":"-23","v":-0.08},{"g":"ALBERT","r":"L","c":"-22","v":0},{"g":"ALBERT","r":"L","c":"-21","v":0.28},{"g":"ALBERT","r":"L","c":"-20","v":0.6},{"g":"ALBERT","r":"L","c":"-19","v":0.68},{"g":"ALBERT","r":"L","c":"-18","v":0.82},{"g":"ALBERT","r":"L","c":"-17","v":0.95},{"g":"ALBERT","r":"L","c":"-16","v":1,"s":1},{"g":"ALBERT","r":"L","c":"-15","v":0.92},{"g":"ALBERT","r":"L","c":"-14","v":0.6},{"g":"ALBERT","r":"L","c":"-13","v":0.48},{"g":"ALBERT","r":"L","c":"-12","v":0.35},{"g":"ALBERT","r":"L","c":"-11","v":0.28},{"g":"ALBERT","r":"L","c":"-10","v":0.06},{"g":"ALBERT","r":"L","c":"-9","v":0},{"g":"ALBERT","r":"L","c":"-8","v":-0.02},{"g":"ALBERT","r":"L","c":"-7","v":-0.05},{"g":"ALBERT","r":"L","c":"-6","v":-0.07},{"g":"ALBERT","r":"L","c":"-5","v":-0.08},{"g":"ALBERT","r":"L","c":"-4","v":-0.12},{"g":"ALBERT","r":"L","c":"-3","v":-0.12},{"g":"ALBERT","r":"L","c":"-2","v":-0.08},{"g":"ALBERT","r":"L","c":"-1","v":-0.01},
{"g":"ALBERT","r":"XL","c":"INIT","v":-1},{"g":"ALBERT","r":"XL","c":"-24","v":-0.06},{"g":"ALBERT","r":"XL","c":"-23","v":0.4},{"g":"ALBERT","r":"XL","c":"-22","v":0.7},{"g":"ALBERT","r":"XL","c":"-21","v":0.95},{"g":"ALBERT","r":"XL","c":"-20","v":0.96},{"g":"ALBERT","r":"XL","c":"-19","v":0.96},{"g":"ALBERT","r":"XL","c":"-18","v":1,"s":1},{"g":"ALBERT","r":"XL","c":"-17","v":0.92},{"g":"ALBERT","r":"XL","c":"-16","v":0.86},{"g":"ALBERT","r":"XL","c":"-15","v":0.75},{"g":"ALBERT","r":"XL","c":"-14","v":0.58},{"g":"ALBERT","r":"XL","c":"-13","v":0.38},{"g":"ALBERT","r":"XL","c":"-12","v":0.19},{"g":"ALBERT","r":"XL","c":"-11","v":0},{"g":"ALBERT","r":"XL","c":"-10","v":-0.06},{"g":"ALBERT","r":"XL","c":"-9","v":-0.14},{"g":"ALBERT","r":"XL","c":"-8","v":-0.19},{"g":"ALBERT","r":"XL","c":"-7","v":-0.21},{"g":"ALBERT","r":"XL","c":"-6","v":-0.23},{"g":"ALBERT","r":"XL","c":"-5","v":-0.23},{"g":"ALBERT","r":"XL","c":"-4","v":-0.29},{"g":"ALBERT","r":"XL","c":"-3","v":-0.28},{"g":"ALBERT","r":"XL","c":"-2","v":-0.31},{"g":"ALBERT","r":"XL","c":"-1","v":-0.68},
{"g":"ALBERT","r":"XXL","c":"INIT","v":-1},{"g":"ALBERT","r":"XXL","c":"-24","v":null},{"g":"ALBERT","r":"XXL","c":"-23","v":null},{"g":"ALBERT","r":"XXL","c":"-22","v":null},{"g":"ALBERT","r":"XXL","c":"-21","v":null},{"g":"ALBERT","r":"XXL","c":"-20","v":null},{"g":"ALBERT","r":"XXL","c":"-19","v":null},{"g":"ALBERT","r":"XXL","c":"-18","v":null},{"g":"ALBERT","r":"XXL","c":"-17","v":null},{"g":"ALBERT","r":"XXL","c":"-16","v":null},{"g":"ALBERT","r":"XXL","c":"-15","v":null},{"g":"ALBERT","r":"XXL","c":"-14","v":null},{"g":"ALBERT","r":"XXL","c":"-13","v":null},{"g":"ALBERT","r":"XXL","c":"-12","v":-0.15},{"g":"ALBERT","r":"XXL","c":"-11","v":-0.02},{"g":"ALBERT","r":"XXL","c":"-10","v":1,"s":1},{"g":"ALBERT","r":"XXL","c":"-9","v":1,"s":1},{"g":"ALBERT","r":"XXL","c":"-8","v":0.5},{"g":"ALBERT","r":"XXL","c":"-7","v":0.06},{"g":"ALBERT","r":"XXL","c":"-6","v":0},{"g":"ALBERT","r":"XXL","c":"-5","v":0},{"g":"ALBERT","r":"XXL","c":"-4","v":0},{"g":"ALBERT","r":"XXL","c":"-3","v":0.06},{"g":"ALBERT","r":"XXL","c":"-2","v":0.06},{"g":"ALBERT","r":"XXL","c":"-1","v":-0.19}
]
},
"spacing":29,
"vconcat":[
{"bounds":"flush","spacing":7.6,"vconcat":[
{"title":{"text":"Word Sense Disambiguation (WSD)","anchor":"start","dx":192.5,"offset":2.35,"baseline":"alphabetic","font":"Liberation Serif","fontSize":21,"fontWeight":"normal","color":"black"},
"width":705.25,"height":163.8,"data":{"name":"wsd"},"transform":[{"filter":"datum.g === 'BERT'"}],
"layer":[
{"transform":[{"filter":"datum.v === null"}],"mark":{"type":"rect","fill":"#cfcfcf","stroke":"#cfcfcf","strokeWidth":0.5},
"encoding":{"x":{"field":"c","type":"ordinal","scale":{"type":"band","domain":["_0","_1","_2","_3","_4","_5","_6","_7","_8","INIT","-24","-23","-22","-21","-20","-19","-18","-17","-16","-15","-14","-13","-12","-11","-10","-9","-8","-7","-6","-5","-4","-3","-2","-1"],"paddingInner":0,"paddingOuter":0.2265,"align":1,"round":false},"axis":{"orient":"top","offset":55,"domain":true,"domainColor":"#555555","domainWidth":1.3,"labels":false,"ticks":false,"title":null}},
"y":{"field":"r","type":"nominal","scale":{"domain":["B","B-UNC","L","L-UNC","L-WHL","L-UNC-WHL"],"paddingInner":0,"paddingOuter":0,"round":false},"axis":{"orient":"left","offset":-94.8,"domain":false,"ticks":false,"tickSize":0,"labelPadding":0,"labelAlign":"left","labelBaseline":"middle","labelFont":"Liberation Serif","labelFontSize":16,"labelColor":"black","labelLimit":0,"title":"BERT","titleAngle":0,"titleX":-52.3,"titleY":81.9,"titleAlign":"center","titleBaseline":"middle","titleFont":"Liberation Serif","titleFontSize":16,"titleFontWeight":"normal","titleColor":"black"}}}},
{"transform":[{"filter":"datum.v !== null"}],"mark":{"type":"rect","strokeWidth":0.5},
"encoding":{"x":{"field":"c","type":"ordinal","axis":{"orient":"top","offset":8.3,"domain":true,"domainColor":"black","domainWidth":1,"labels":false,"ticks":false,"title":null}},
"y":{"field":"r","type":"nominal","axis":null},
"color":{"field":"v","type":"quantitative","scale":{"domain":[-1,0,1],"range":["#e67c73","#ffffff","#57bb8a"],"interpolate":"rgb"},"legend":null},
"stroke":{"field":"v","type":"quantitative","scale":{"domain":[-1,0,1],"range":["#e67c73","#ffffff","#57bb8a"],"interpolate":"rgb"},"legend":null}}},
{"transform":[{"filter":"datum.s === 1"}],"mark":{"type":"text","text":"★","color":"white","font":"DejaVu Sans","fontSize":11,"baseline":"middle"},
"encoding":{"x":{"field":"c","type":"ordinal","axis":{"orient":"top","offset":5.7,"values":["INIT","-24","-23","-22","-21","-20","-19","-18","-17","-16","-15","-14","-13","-12","-11","-10","-9","-8","-7","-6","-5","-4","-3","-2","-1"],"domain":true,"domainColor":"black","domainWidth":1,"ticks":false,"tickSize":0,"labels":true,"labelAngle":270,"labelAlign":"left","labelBaseline":"middle","labelPadding":14,"labelFont":"Liberation Serif","labelFontSize":14,"labelColor":"black","labelOverlap":false,"title":"Model","titleX":96.5,"titleY":-14,"titleAlign":"center","titleBaseline":"alphabetic","titleAngle":0,"titleFont":"Liberation Serif","titleFontSize":17,"titleFontWeight":"bold","titleColor":"black"}},
"y":{"field":"r","type":"nominal","axis":null}}}
],
"resolve":{"axis":{"x":"independent","y":"independent"}}},
{"width":705.25,"height":54.6,"data":{"name":"wsd"},"transform":[{"filter":"datum.g === 'XLNet'"}],
"layer":[
{"transform":[{"filter":"datum.v === null"}],"mark":{"type":"rect","fill":"#cfcfcf","stroke":"#cfcfcf","strokeWidth":0.5},
"encoding":{"x":{"field":"c","type":"ordinal","scale":{"type":"band","domain":["_0","_1","_2","_3","_4","_5","_6","_7","_8","INIT","-24","-23","-22","-21","-20","-19","-18","-17","-16","-15","-14","-13","-12","-11","-10","-9","-8","-7","-6","-5","-4","-3","-2","-1"],"paddingInner":0,"paddingOuter":0.2265,"align":1,"round":false},"axis":{"orient":"top","offset":4.9,"domain":true,"domainColor":"#555555","domainWidth":1.5,"labels":false,"ticks":false,"title":null}},
"y":{"field":"r","type":"nominal","scale":{"domain":["B","L"],"paddingInner":0,"paddingOuter":0,"round":false},"axis":{"orient":"left","offset":-94.8,"domain":false,"ticks":false,"tickSize":0,"labelPadding":0,"labelAlign":"left","labelBaseline":"middle","labelFont":"Liberation Serif","labelFontSize":16,"labelColor":"black","labelLimit":0,"title":"XLNet","titleAngle":0,"titleX":-52.3,"titleY":27.3,"titleAlign":"center","titleBaseline":"middle","titleFont":"Liberation Serif","titleFontSize":16,"titleFontWeight":"normal","titleColor":"black"}}}},
{"transform":[{"filter":"datum.v !== null"}],"mark":{"type":"rect","strokeWidth":0.5},
"encoding":{"x":{"field":"c","type":"ordinal","axis":null},"y":{"field":"r","type":"nominal","axis":null},
"color":{"field":"v","type":"quantitative","scale":{"domain":[-1,0,1],"range":["#e67c73","#ffffff","#57bb8a"],"interpolate":"rgb"},"legend":null},
"stroke":{"field":"v","type":"quantitative","scale":{"domain":[-1,0,1],"range":["#e67c73","#ffffff","#57bb8a"],"interpolate":"rgb"},"legend":null}}},
{"transform":[{"filter":"datum.s === 1"}],"mark":{"type":"text","text":"★","color":"white","font":"DejaVu Sans","fontSize":11,"baseline":"middle"},
"encoding":{"x":{"field":"c","type":"ordinal","axis":null},"y":{"field":"r","type":"nominal","axis":null}}}
],
"resolve":{"axis":{"x":"independent","y":"independent"}}},
{"width":705.25,"height":54.6,"data":{"name":"wsd"},"transform":[{"filter":"datum.g === 'RoBERTa'"}],
"layer":[
{"transform":[{"filter":"datum.v === null"}],"mark":{"type":"rect","fill":"#cfcfcf","stroke":"#cfcfcf","strokeWidth":0.5},
"encoding":{"x":{"field":"c","type":"ordinal","scale":{"type":"band","domain":["_0","_1","_2","_3","_4","_5","_6","_7","_8","INIT","-24","-23","-22","-21","-20","-19","-18","-17","-16","-15","-14","-13","-12","-11","-10","-9","-8","-7","-6","-5","-4","-3","-2","-1"],"paddingInner":0,"paddingOuter":0.2265,"align":1,"round":false},"axis":{"orient":"top","offset":4.3,"domain":true,"domainColor":"black","domainWidth":1,"labels":false,"ticks":false,"title":null}},
"y":{"field":"r","type":"nominal","scale":{"domain":["B","L"],"paddingInner":0,"paddingOuter":0,"round":false},"axis":{"orient":"left","offset":-94.8,"domain":false,"ticks":false,"tickSize":0,"labelPadding":0,"labelAlign":"left","labelBaseline":"middle","labelFont":"Liberation Serif","labelFontSize":16,"labelColor":"black","labelLimit":0,"title":"RoBERTa","titleAngle":0,"titleX":-52.3,"titleY":27.3,"titleAlign":"center","titleBaseline":"middle","titleFont":"Liberation Serif","titleFontSize":16,"titleFontWeight":"normal","titleColor":"black"}}}},
{"transform":[{"filter":"datum.v !== null"}],"mark":{"type":"rect","strokeWidth":0.5},
"encoding":{"x":{"field":"c","type":"ordinal","axis":null},"y":{"field":"r","type":"nominal","axis":null},
"color":{"field":"v","type":"quantitative","scale":{"domain":[-1,0,1],"range":["#e67c73","#ffffff","#57bb8a"],"interpolate":"rgb"},"legend":null},
"stroke":{"field":"v","type":"quantitative","scale":{"domain":[-1,0,1],"range":["#e67c73","#ffffff","#57bb8a"],"interpolate":"rgb"},"legend":null}}},
{"transform":[{"filter":"datum.s === 1"}],"mark":{"type":"text","text":"★","color":"white","font":"DejaVu Sans","fontSize":11,"baseline":"middle"},
"encoding":{"x":{"field":"c","type":"ordinal","axis":null},"y":{"field":"r","type":"nominal","axis":null}}}
],
"resolve":{"axis":{"x":"independent","y":"independent"}}},
{"width":705.25,"height":109.2,"data":{"name":"wsd"},"transform":[{"filter":"datum.g === 'ALBERT'"}],
"layer":[
{"transform":[{"filter":"datum.v === null"}],"mark":{"type":"rect","fill":"#cfcfcf","stroke":"#cfcfcf","strokeWidth":0.5},
"encoding":{"x":{"field":"c","type":"ordinal","scale":{"type":"band","domain":["_0","_1","_2","_3","_4","_5","_6","_7","_8","INIT","-24","-23","-22","-21","-20","-19","-18","-17","-16","-15","-14","-13","-12","-11","-10","-9","-8","-7","-6","-5","-4","-3","-2","-1"],"paddingInner":0,"paddingOuter":0.2265,"align":1,"round":false},"axis":{"orient":"top","offset":4.5,"domain":true,"domainColor":"#555555","domainWidth":1.5,"labels":false,"ticks":false,"title":null}},
"y":{"field":"r","type":"nominal","scale":{"domain":["B","L","XL","XXL"],"paddingInner":0,"paddingOuter":0,"round":false},"axis":{"orient":"left","offset":-94.8,"domain":false,"ticks":false,"tickSize":0,"labelPadding":0,"labelAlign":"left","labelBaseline":"middle","labelFont":"Liberation Serif","labelFontSize":16,"labelColor":"black","labelLimit":0,"title":"ALBERT","titleAngle":0,"titleX":-52.3,"titleY":54.6,"titleAlign":"center","titleBaseline":"middle","titleFont":"Liberation Serif","titleFontSize":16,"titleFontWeight":"normal","titleColor":"black"}}}},
{"transform":[{"filter":"datum.v !== null"}],"mark":{"type":"rect","strokeWidth":0.5},
"encoding":{"x":{"field":"c","type":"ordinal","axis":{"orient":"bottom","offset":4.3,"domain":true,"domainColor":"#555555","domainWidth":1.5,"labels":false,"ticks":false,"title":null}},"y":{"field":"r","type":"nominal","axis":null},
"color":{"field":"v","type":"quantitative","scale":{"domain":[-1,0,1],"range":["#e67c73","#ffffff","#57bb8a"],"interpolate":"rgb"},"legend":null},
"stroke":{"field":"v","type":"quantitative","scale":{"domain":[-1,0,1],"range":["#e67c73","#ffffff","#57bb8a"],"interpolate":"rgb"},"legend":null}}},
{"transform":[{"filter":"datum.s === 1"}],"mark":{"type":"text","text":"★","color":"white","font":"DejaVu Sans","fontSize":11,"baseline":"middle"},
"encoding":{"x":{"field":"c","type":"ordinal","axis":null},"y":{"field":"r","type":"nominal","axis":null}}}
],
"resolve":{"axis":{"x":"independent","y":"independent"}}}
]},
{"bounds":"flush","spacing":7.35,"vconcat":[
{"title":{"text":"Uninformed Sense Matching (USM)","anchor":"start","dx":192.5,"offset":5.65,"baseline":"alphabetic","font":"Liberation Serif","fontSize":21,"fontWeight":"normal","color":"black"},
"width":710.55,"height":164.4,"data":{"name":"usm"},"transform":[{"filter":"datum.g === 'BERT'"}],
"layer":[
{"transform":[{"filter":"datum.v === null"}],"mark":{"type":"rect","fill":"#cfcfcf","stroke":"#cfcfcf","strokeWidth":0.5},
"encoding":{"x":{"field":"c","type":"ordinal","scale":{"type":"band","domain":["_0","_1","_2","_3","_4","_5","_6","_7","_8","INIT","-24","-23","-22","-21","-20","-19","-18","-17","-16","-15","-14","-13","-12","-11","-10","-9","-8","-7","-6","-5","-4","-3","-2","-1"],"paddingInner":0,"paddingOuter":0.305,"align":1,"round":false},"axis":{"orient":"top","offset":54.4,"domain":true,"domainColor":"#555555","domainWidth":1.3,"labels":false,"ticks":false,"title":null}},
"y":{"field":"r","type":"nominal","scale":{"domain":["B","B-UNC","L","B-UNC ","L-WHL","L-UNC-WHL"],"paddingInner":0,"paddingOuter":0,"round":false},"axis":{"orient":"left","offset":-99.2,"domain":false,"ticks":false,"tickSize":0,"labelPadding":0,"labelAlign":"left","labelBaseline":"middle","labelFont":"Liberation Serif","labelFontSize":16,"labelColor":"black","labelLimit":0,"title":"BERT","titleAngle":0,"titleX":-52.5,"titleY":82.2,"titleAlign":"center","titleBaseline":"middle","titleFont":"Liberation Serif","titleFontSize":16,"titleFontWeight":"normal","titleColor":"black"}}}},
{"transform":[{"filter":"datum.v !== null"}],"mark":{"type":"rect","strokeWidth":0.5},
"encoding":{"x":{"field":"c","type":"ordinal","axis":{"orient":"top","offset":7.4,"domain":true,"domainColor":"black","domainWidth":1,"labels":false,"ticks":false,"title":null}},
"y":{"field":"r","type":"nominal","axis":null},
"color":{"field":"v","type":"quantitative","scale":{"domain":[-1,0,1],"range":["#e67c73","#ffffff","#57bb8a"],"interpolate":"rgb"},"legend":null},
"stroke":{"field":"v","type":"quantitative","scale":{"domain":[-1,0,1],"range":["#e67c73","#ffffff","#57bb8a"],"interpolate":"rgb"},"legend":null}}},
{"transform":[{"filter":"datum.s === 1"}],"mark":{"type":"text","text":"★","color":"white","font":"DejaVu Sans","fontSize":11,"baseline":"middle"},
"encoding":{"x":{"field":"c","type":"ordinal","axis":{"orient":"top","offset":4.7,"values":["INIT","-24","-23","-22","-21","-20","-19","-18","-17","-16","-15","-14","-13","-12","-11","-10","-9","-8","-7","-6","-5","-4","-3","-2","-1"],"domain":true,"domainColor":"black","domainWidth":1,"ticks":false,"tickSize":0,"labels":true,"labelAngle":270,"labelAlign":"left","labelBaseline":"middle","labelPadding":15.3,"labelFont":"Liberation Serif","labelFontSize":14,"labelColor":"black","labelOverlap":false,"title":"Model","titleX":101.5,"titleY":-13.7,"titleAlign":"center","titleBaseline":"alphabetic","titleAngle":0,"titleFont":"Liberation Serif","titleFontSize":17,"titleFontWeight":"bold","titleColor":"black"}},
"y":{"field":"r","type":"nominal","axis":null}}}
],
"resolve":{"axis":{"x":"independent","y":"independent"}}},
{"width":710.55,"height":54.8,"data":{"name":"usm"},"transform":[{"filter":"datum.g === 'XLNet'"}],
"layer":[
{"transform":[{"filter":"datum.v === null"}],"mark":{"type":"rect","fill":"#cfcfcf","stroke":"#cfcfcf","strokeWidth":0.5},
"encoding":{"x":{"field":"c","type":"ordinal","scale":{"type":"band","domain":["_0","_1","_2","_3","_4","_5","_6","_7","_8","INIT","-24","-23","-22","-21","-20","-19","-18","-17","-16","-15","-14","-13","-12","-11","-10","-9","-8","-7","-6","-5","-4","-3","-2","-1"],"paddingInner":0,"paddingOuter":0.305,"align":1,"round":false},"axis":{"orient":"top","offset":4.45,"domain":true,"domainColor":"#555555","domainWidth":1.5,"labels":false,"ticks":false,"title":null}},
"y":{"field":"r","type":"nominal","scale":{"domain":["B","L"],"paddingInner":0,"paddingOuter":0,"round":false},"axis":{"orient":"left","offset":-99.2,"domain":false,"ticks":false,"tickSize":0,"labelPadding":0,"labelAlign":"left","labelBaseline":"middle","labelFont":"Liberation Serif","labelFontSize":16,"labelColor":"black","labelLimit":0,"title":"XLNet","titleAngle":0,"titleX":-52.5,"titleY":27.4,"titleAlign":"center","titleBaseline":"middle","titleFont":"Liberation Serif","titleFontSize":16,"titleFontWeight":"normal","titleColor":"black"}}}},
{"transform":[{"filter":"datum.v !== null"}],"mark":{"type":"rect","strokeWidth":0.5},
"encoding":{"x":{"field":"c","type":"ordinal","axis":null},"y":{"field":"r","type":"nominal","axis":null},
"color":{"field":"v","type":"quantitative","scale":{"domain":[-1,0,1],"range":["#e67c73","#ffffff","#57bb8a"],"interpolate":"rgb"},"legend":null},
"stroke":{"field":"v","type":"quantitative","scale":{"domain":[-1,0,1],"range":["#e67c73","#ffffff","#57bb8a"],"interpolate":"rgb"},"legend":null}}},
{"transform":[{"filter":"datum.s === 1"}],"mark":{"type":"text","text":"★","color":"white","font":"DejaVu Sans","fontSize":11,"baseline":"middle"},
"encoding":{"x":{"field":"c","type":"ordinal","axis":null},"y":{"field":"r","type":"nominal","axis":null}}}
],
"resolve":{"axis":{"x":"independent","y":"independent"}}},
{"width":710.55,"height":54.8,"data":{"name":"usm"},"transform":[{"filter":"datum.g === 'RoBERTa'"}],
"layer":[
{"transform":[{"filter":"datum.v === null"}],"mark":{"type":"rect","fill":"#cfcfcf","stroke":"#cfcfcf","strokeWidth":0.5},
"encoding":{"x":{"field":"c","type":"ordinal","scale":{"type":"band","domain":["_0","_1","_2","_3","_4","_5","_6","_7","_8","INIT","-24","-23","-22","-21","-20","-19","-18","-17","-16","-15","-14","-13","-12","-11","-10","-9","-8","-7","-6","-5","-4","-3","-2","-1"],"paddingInner":0,"paddingOuter":0.305,"align":1,"round":false},"axis":{"orient":"top","offset":3.9,"domain":true,"domainColor":"black","domainWidth":1,"labels":false,"ticks":false,"title":null}},
"y":{"field":"r","type":"nominal","scale":{"domain":["B","L"],"paddingInner":0,"paddingOuter":0,"round":false},"axis":{"orient":"left","offset":-99.2,"domain":false,"ticks":false,"tickSize":0,"labelPadding":0,"labelAlign":"left","labelBaseline":"middle","labelFont":"Liberation Serif","labelFontSize":16,"labelColor":"black","labelLimit":0,"title":"RoBERTa","titleAngle":0,"titleX":-52.5,"titleY":27.4,"titleAlign":"center","titleBaseline":"middle","titleFont":"Liberation Serif","titleFontSize":16,"titleFontWeight":"normal","titleColor":"black"}}}},
{"transform":[{"filter":"datum.v !== null"}],"mark":{"type":"rect","strokeWidth":0.5},
"encoding":{"x":{"field":"c","type":"ordinal","axis":null},"y":{"field":"r","type":"nominal","axis":null},
"color":{"field":"v","type":"quantitative","scale":{"domain":[-1,0,1],"range":["#e67c73","#ffffff","#57bb8a"],"interpolate":"rgb"},"legend":null},
"stroke":{"field":"v","type":"quantitative","scale":{"domain":[-1,0,1],"range":["#e67c73","#ffffff","#57bb8a"],"interpolate":"rgb"},"legend":null}}},
{"transform":[{"filter":"datum.s === 1"}],"mark":{"type":"text","text":"★","color":"white","font":"DejaVu Sans","fontSize":11,"baseline":"middle"},
"encoding":{"x":{"field":"c","type":"ordinal","axis":null},"y":{"field":"r","type":"nominal","axis":null}}}
],
"resolve":{"axis":{"x":"independent","y":"independent"}}},
{"width":710.55,"height":109.6,"data":{"name":"usm"},"transform":[{"filter":"datum.g === 'ALBERT'"}],
"layer":[
{"transform":[{"filter":"datum.v === null"}],"mark":{"type":"rect","fill":"#cfcfcf","stroke":"#cfcfcf","strokeWidth":0.5},
"encoding":{"x":{"field":"c","type":"ordinal","scale":{"type":"band","domain":["_0","_1","_2","_3","_4","_5","_6","_7","_8","INIT","-24","-23","-22","-21","-20","-19","-18","-17","-16","-15","-14","-13","-12","-11","-10","-9","-8","-7","-6","-5","-4","-3","-2","-1"],"paddingInner":0,"paddingOuter":0.305,"align":1,"round":false},"axis":{"orient":"top","offset":4.45,"domain":true,"domainColor":"#555555","domainWidth":1.5,"labels":false,"ticks":false,"title":null}},
"y":{"field":"r","type":"nominal","scale":{"domain":["B","L","XL","XXL"],"paddingInner":0,"paddingOuter":0,"round":false},"axis":{"orient":"left","offset":-99.2,"domain":false,"ticks":false,"tickSize":0,"labelPadding":0,"labelAlign":"left","labelBaseline":"middle","labelFont":"Liberation Serif","labelFontSize":16,"labelColor":"black","labelLimit":0,"title":"ALBERT","titleAngle":0,"titleX":-52.5,"titleY":54.8,"titleAlign":"center","titleBaseline":"middle","titleFont":"Liberation Serif","titleFontSize":16,"titleFontWeight":"normal","titleColor":"black"}}}},
{"transform":[{"filter":"datum.v !== null"}],"mark":{"type":"rect","strokeWidth":0.5},
"encoding":{"x":{"field":"c","type":"ordinal","axis":null},"y":{"field":"r","type":"nominal","axis":null},
"color":{"field":"v","type":"quantitative","scale":{"domain":[-1,0,1],"range":["#e67c73","#ffffff","#57bb8a"],"interpolate":"rgb"},"legend":null},
"stroke":{"field":"v","type":"quantitative","scale":{"domain":[-1,0,1],"range":["#e67c73","#ffffff","#57bb8a"],"interpolate":"rgb"},"legend":null}}},
{"transform":[{"filter":"datum.s === 1"}],"mark":{"type":"text","text":"★","color":"white","font":"DejaVu Sans","fontSize":11,"baseline":"middle"},
"encoding":{"x":{"field":"c","type":"ordinal","axis":null},"y":{"field":"r","type":"nominal","axis":null}}}
],
"resolve":{"axis":{"x":"independent","y":"independent"}}}
]}
]
}
